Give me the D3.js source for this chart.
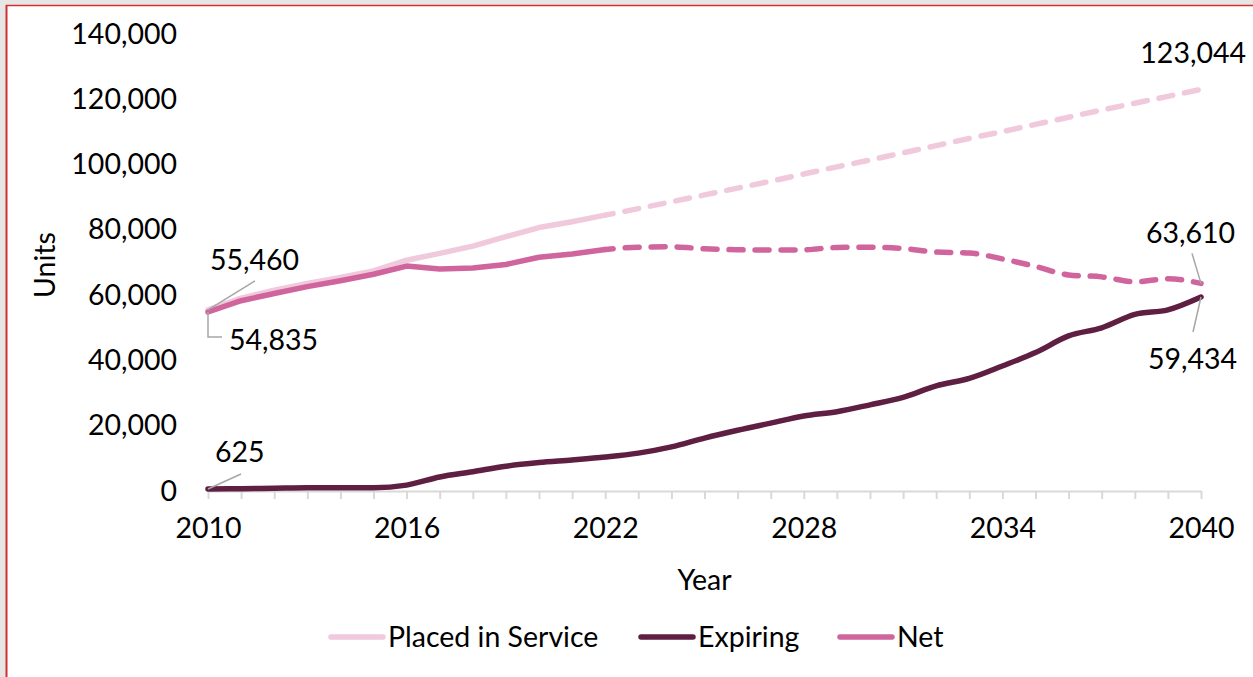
<!DOCTYPE html>
<html>
<head>
<meta charset="utf-8">
<script src="https://cdn.jsdelivr.net/npm/d3@7"></script>
<style>
  html, body { margin: 0; padding: 0; background: #e6e6e6; }
  svg { display: block; }
  text { font-family: Lato, "Open Sans", sans-serif; fill: #000; }
</style>
</head>
<body>
<svg id="chart" width="1253" height="677"></svg>
<script>
// Low-income housing units, 2010-2040 (solid = actual, dashed = projected)
const years = [2010, 2011, 2012, 2013, 2014, 2015, 2016, 2017, 2018, 2019, 2020,
               2021, 2022, 2023, 2024, 2025, 2026, 2027, 2028, 2029, 2030,
               2031, 2032, 2033, 2034, 2035, 2036, 2037, 2038, 2039, 2040];
const placedInService = [55460, 59100, 61500, 63600, 65400, 67400, 70700, 72800, 75000, 77900, 80700,
                         82500, 84500, 86500, 88600, 90700, 92800, 94900, 97100, 99300, 101400,
                         103600, 105800, 108000, 110100, 112300, 114500, 116700, 118800, 120900, 123044];
const expiring = [625, 700, 850, 1000, 1000, 1000, 1800, 4300, 5900, 7600, 8700,
                  9500, 10400, 11600, 13500, 16200, 18600, 20800, 23000, 24300, 26400,
                  28700, 32200, 34500, 38300, 42400, 47500, 50000, 54100, 55500, 59434];
const net = [54835, 58300, 60500, 62600, 64400, 66400, 68900, 68000, 68300, 69400, 71600,
             72600, 74000, 74700, 74800, 74200, 73900, 73800, 73900, 74600, 74700,
             74300, 73200, 72900, 71100, 68800, 66200, 65600, 64100, 65000, 63610];
const lastActualYear = 2022;
const yTicks = [0, 20000, 40000, 60000, 80000, 100000, 120000, 140000];
const xTickLabels = [2010, 2016, 2022, 2028, 2034, 2040];
const seriesNames = ["Placed in Service", "Expiring", "Net"];

const colors = { placed: "#f0c9dd", expiring: "#5f1f42", net: "#d0659d" };
const lineW = 5.5;
const fontSize = 28.5;

const svg = d3.select("#chart");

// white panel with the red frame edge on top/left
svg.append("rect").attr("x", 7).attr("y", 6).attr("width", 1246).attr("height", 671).attr("fill", "#fff");
svg.append("line").attr("x1", 6.5).attr("x2", 6.5).attr("y1", 5).attr("y2", 677)
   .attr("stroke", "#d22f2f").attr("stroke-width", 2);
svg.append("line").attr("x1", 6).attr("x2", 1253).attr("y1", 5.5).attr("y2", 5.5)
   .attr("stroke", "#d22f2f").attr("stroke-width", 1.5);

const x = d3.scaleLinear().domain([2010, 2040]).range([208, 1201]);
const y = d3.scaleLinear().domain([0, 140000]).range([491, 34]);

// y axis labels (no axis line)
const yAxis = d3.axisLeft(y).tickValues(yTicks).tickSize(0).tickPadding(31)
  .tickFormat(d3.format(","));
const gy = svg.append("g").attr("transform", "translate(208,0)").call(yAxis);
gy.select(".domain").remove();
gy.selectAll("text").attr("font-size", fontSize).attr("font-family", "Lato, sans-serif").attr("fill", "#000");

// x axis: light baseline with a tick every year, labels every 6 years
const xAxis = d3.axisBottom(x).tickValues(years).tickSize(8).tickSizeOuter(0)
  .tickFormat(d => xTickLabels.includes(d) ? d : "");
const gx = svg.append("g").attr("transform", "translate(0,491)").call(xAxis);
gx.select(".domain").attr("stroke", "#d9d9d9").attr("stroke-width", 2);
gx.selectAll(".tick line").attr("stroke", "#d9d9d9").attr("stroke-width", 2);
gx.selectAll("text").attr("font-size", fontSize).attr("font-family", "Lato, sans-serif")
  .attr("fill", "#000").attr("dy", "1.25em");

// axis titles
svg.append("text").attr("x", x(2025)).attr("y", 590).attr("text-anchor", "middle")
  .attr("font-size", fontSize).text("Year");
svg.append("text").attr("transform", "translate(55,265) rotate(-90)")
  .attr("text-anchor", "middle").attr("font-size", fontSize).text("Units");

// series lines
const rows = (vals) => years.map((yr, i) => ({ yr, v: vals[i] }));
const actual = (vals) => rows(vals).filter(d => d.yr <= lastActualYear);
const projected = (vals) => rows(vals).filter(d => d.yr >= lastActualYear);

const straight = d3.line().x(d => x(d.yr)).y(d => y(d.v));
const smooth = d3.line().x(d => x(d.yr)).y(d => y(d.v)).curve(d3.curveMonotoneX);

const plot = svg.append("g").attr("fill", "none").attr("stroke-width", lineW);

function drawSeries(vals, color) {
  plot.append("path").datum(actual(vals)).attr("d", straight)
    .attr("stroke", color).attr("stroke-linejoin", "round").attr("stroke-linecap", "round");
  plot.append("path").datum(projected(vals)).attr("d", smooth)
    .attr("stroke", color).attr("stroke-linecap", "round")
    .attr("stroke-dasharray", "14 12").attr("stroke-dashoffset", -20);
}
drawSeries(placedInService, colors.placed);
drawSeries(net, colors.net);
plot.append("path").datum(rows(expiring)).attr("d", smooth)
  .attr("stroke", colors.expiring).attr("stroke-linejoin", "round").attr("stroke-linecap", "round");

// value labels at the first and last year, with gray leader lines
const leader = svg.append("g").attr("fill", "none").attr("stroke", "#a6a6a6").attr("stroke-width", 1.5);
const labels = svg.append("g").attr("font-size", fontSize);
const first = 0, last = years.length - 1;
const fmt = d3.format(",");

function label(yr, v, dx, dy, anchor) {
  labels.append("text").attr("x", x(yr) + dx).attr("y", y(v) + dy)
    .attr("text-anchor", anchor || "start").text(fmt(v));
}
function lead(yr, v, pts) {
  const p0 = [x(yr), y(v)];
  leader.append("path").attr("d", d3.line()([p0, ...pts.map(p => [p0[0] + p[0], p0[1] + p[1]])]));
}

label(years[first], placedInService[first], 2, -40);
lead(years[first], placedInService[first], [[47, -29]]);

label(years[first], net[first], 21, 38);
lead(years[first], net[first], [[0, 25], [14, 25]]);

label(years[first], expiring[first], 7, -27);
lead(years[first], expiring[first], [[33, -15]]);

label(years[last], placedInService[last], 45, -26, "end");

label(years[last], net[last], 34, -40, "end");
lead(years[last], net[last], [[-9, -30]]);

label(years[last], expiring[last], 36, 72, "end");
lead(years[last], expiring[last], [[-8, 35]]);

// legend
const legend = svg.append("g").attr("font-size", fontSize);
const legendItems = [
  { name: seriesNames[0], color: colors.placed, x0: 331 },
  { name: seriesNames[1], color: colors.expiring, x0: 641 },
  { name: seriesNames[2], color: colors.net, x0: 840 }
];
legendItems.forEach(it => {
  legend.append("line").attr("x1", it.x0).attr("x2", it.x0 + 52).attr("y1", 637).attr("y2", 637)
    .attr("stroke", it.color).attr("stroke-width", lineW).attr("stroke-linecap", "round");
  legend.append("text").attr("x", it.x0 + 57).attr("y", 647).text(it.name);
});
</script>
</body>
</html>
